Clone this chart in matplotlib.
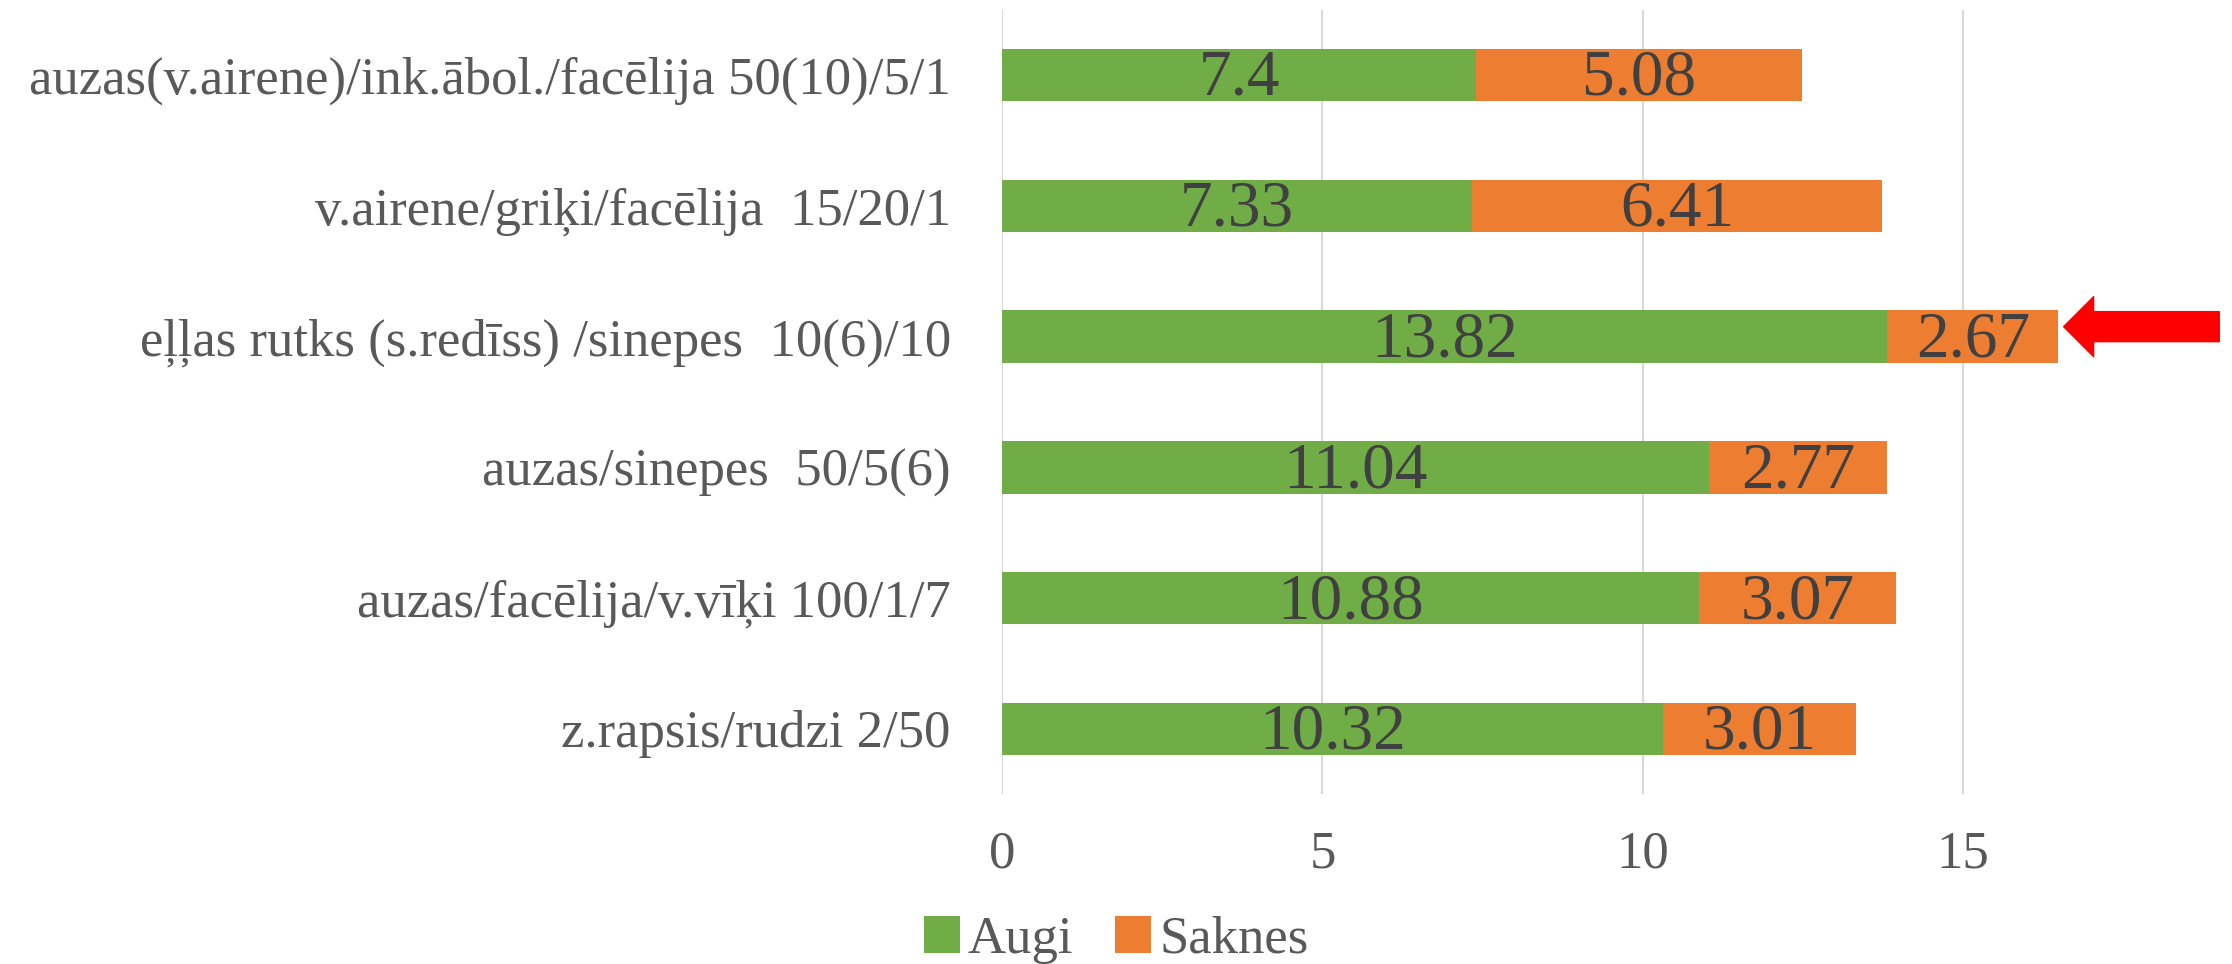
import matplotlib
matplotlib.use("Agg")
import matplotlib.pyplot as plt
import numpy as np

plt.rcParams['font.family'] = ['Liberation Serif', 'DejaVu Serif']

# data (bottom to top)
categories = [
    "z.rapsis/rudzi 2/50",
    "auzas/facēlija/v.vīķi 100/1/7",
    "auzas/sinepes  50/5(6)",
    "eļļas rutks (s.redīss) /sinepes  10(6)/10",
    "v.airene/griķi/facēlija  15/20/1",
    "auzas(v.airene)/ink.ābol./facēlija 50(10)/5/1",
]
augi = [10.32, 10.88, 11.04, 13.82, 7.33, 7.4]
saknes = [3.01, 3.07, 2.77, 2.67, 6.41, 5.08]
highlight = 3  # row marked with the red arrow

green = '#70AD47'
orange = '#ED7D31'

fig = plt.figure(figsize=(22.32, 9.64), dpi=100)
ax = fig.add_axes([0.449, 0.176, 1.023 - 0.449, 0.990 - 0.176])

y = np.arange(len(categories))
b1 = ax.barh(y, augi, height=0.4, color=green, label='Augi', zorder=2)
b2 = ax.barh(y, saknes, left=augi, height=0.4, color=orange, label='Saknes', zorder=2)

for bars in (b1, b2):
    texts = ax.bar_label(bars, labels=[f'{v:g}' for v in bars.datavalues],
                         label_type='center', fontsize=47, color='#404040')
    for t in texts:
        t.xyann = (0, -3)

# red arrow pointing at the highlighted row
end = augi[highlight] + saknes[highlight]
ax.annotate('', xy=(end + 0.08, highlight + 0.076), xytext=(19.0, highlight + 0.076),
            arrowprops=dict(arrowstyle='simple,head_length=1.0,head_width=2.0,tail_width=1.0',
                            mutation_scale=21.6, color='red', shrinkA=0, shrinkB=0),
            annotation_clip=False)

ax.set_xlim(0, 20)
ax.set_ylim(-0.5, len(categories) - 0.5)
ax.set_xticks([0, 5, 10, 15])
ax.set_yticks(y)
ax.set_yticklabels(categories)
ax.tick_params(axis='y', length=0, pad=37, labelsize=38, labelcolor='#595959')
ax.tick_params(axis='x', length=0, pad=26, labelsize=38, labelcolor='#595959')
ax.grid(axis='x', color='#D9D9D9', linewidth=1.5, zorder=0)
ax.set_axisbelow(True)
for s in ax.spines.values():
    s.set_visible(False)

fig.legend(handles=[b1, b2], loc='center', bbox_to_anchor=(0.5, 0.025), ncol=2,
           frameon=False, fontsize=38, labelcolor='#595959',
           handlelength=0.68, handleheight=0.68, handletextpad=0.15, columnspacing=0.8)

fig.savefig('out.png', dpi=100, facecolor='white')
